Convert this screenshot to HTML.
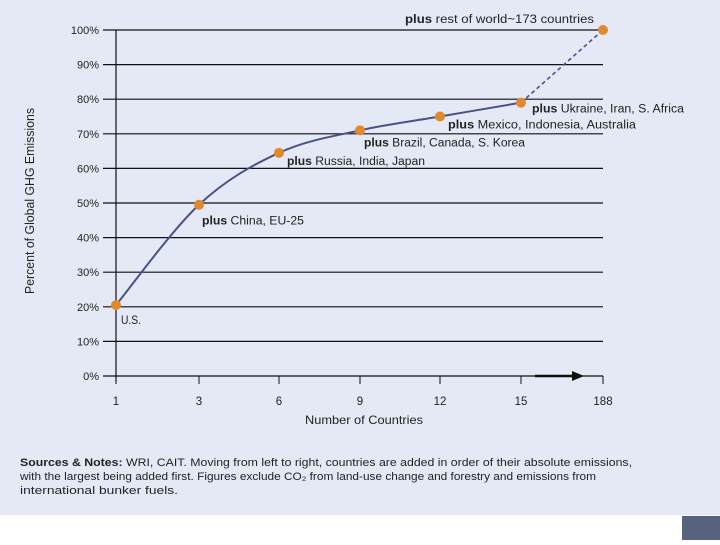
<!DOCTYPE html>
<html><head><meta charset="utf-8"><style>
body{margin:0;width:720px;height:540px;overflow:hidden;background:#fff;font-family:"Liberation Sans",sans-serif}
</style></head><body>
<svg width="720" height="540" xmlns="http://www.w3.org/2000/svg">
<rect x="0" y="0" width="720" height="515" fill="#e4e9f5"/>
<rect x="682" y="516" width="38" height="24" fill="#56627e"/>
<g id="grid"></g>
<g id="axes"></g>
<g id="marks"></g>
<text transform="translate(34,201) rotate(-90)" text-anchor="middle" font-size="12.5" fill="#222" textLength="186" lengthAdjust="spacingAndGlyphs">Percent of Global GHG Emissions</text>
<text x="364" y="424" text-anchor="middle" font-size="12" fill="#222" textLength="118" lengthAdjust="spacingAndGlyphs">Number of Countries</text>
<g font-size="11" fill="#222">
<text x="20" y="466" textLength="612" lengthAdjust="spacingAndGlyphs"><tspan font-weight="bold">Sources &amp; Notes:</tspan> WRI, CAIT. Moving from left to right, countries are added in order of their absolute emissions,</text>
<text x="20" y="480" textLength="576" lengthAdjust="spacingAndGlyphs">with the largest being added first. Figures exclude CO₂ from land-use change and forestry and emissions from</text>
<text x="20" y="494" textLength="158" lengthAdjust="spacingAndGlyphs">international bunker fuels.</text>
</g>
</svg>
<script>
const categories=["1","3","6","9","12","15","188"];
const values=[20.5,49.5,64.5,71,75,79,100];
const yTicks=[0,10,20,30,40,50,60,70,80,90,100];
const labels=["U.S.","China, EU-25","Russia, India, Japan","Brazil, Canada, S. Korea","Mexico, Indonesia, Australia","Ukraine, Iran, S. Africa","rest of world~173 countries"];
const NS="http://www.w3.org/2000/svg";
const yTop=30,yBot=376;
const xPos=[116,199,279,360,440,521,603];
const xs=i=>xPos[i];
const ys=v=>yBot-(v/100)*(yBot-yTop);
function el(t,a,p){const e=document.createElementNS(NS,t);for(const k in a)e.setAttribute(k,a[k]);p.appendChild(e);return e;}
const grid=document.getElementById('grid'),axes=document.getElementById('axes'),marks=document.getElementById('marks');
yTicks.forEach(t=>{
 const g=el('line',{x1:103,x2:603,y1:ys(t),y2:ys(t),stroke:'#111','stroke-width':1.2},grid);
 
 
 const tx=el('text',{x:99,y:ys(t)+4,'text-anchor':'end','font-size':11,fill:'#222'},axes);
 tx.textContent=t+'%';
 
 
});
el('line',{x1:116,x2:116,y1:yTop,y2:yBot+6,stroke:'#111','stroke-width':1.2},axes);
categories.forEach((c,i)=>{
 el('line',{x1:xs(i),x2:xs(i),y1:yBot,y2:yBot+8,stroke:'#111','stroke-width':1},axes);
 const t=el('text',{x:xs(i),y:yBot+29,'text-anchor':'middle','font-size':11.5,fill:'#222'},axes);
 t.textContent=c;
 
 
});
el('line',{x1:535,x2:576,y1:yBot,y2:yBot,stroke:'#111','stroke-width':2.5},axes);
el('polygon',{points:`572,${yBot-5} 584,${yBot} 572,${yBot+5}`,fill:'#111'},axes);
const P=values.map((v,i)=>[xs(i),ys(v)]);
let d=`M${P[0][0]},${P[0][1]}`;
for(let i=0;i<5;i++){const p0=P[Math.max(0,i-1)],p1=P[i],p2=P[i+1],p3=P[Math.min(5,i+2)];
 d+=` C${p1[0]+(p2[0]-p0[0])/6},${p1[1]+(p2[1]-p0[1])/6} ${p2[0]-(p3[0]-p1[0])/6},${p2[1]-(p3[1]-p1[1])/6} ${p2[0]},${p2[1]}`;}
const line=el('path',{d,fill:'none',stroke:'#4a5089','stroke-width':2},marks);


const dl=el('line',{x1:P[5][0],y1:P[5][1],x2:P[6][0],y2:P[6][1],stroke:'#4a5089','stroke-width':1.6,'stroke-dasharray':'4,3'},marks);


const off=[[5,19],[3,20],[8,12],[4,16],[8,12],[11,10],[-198,-7]];
const widths=[20,102,138,161,188,152,189];
P.forEach((p,i)=>{
 const c=el('circle',{cx:p[0],cy:p[1],r:5,fill:'#e08a2c'},marks);
 
 
 const t=el('text',{x:p[0]+off[i][0],y:p[1]+off[i][1],'font-size':11.5,fill:'#222',textLength:widths[i],lengthAdjust:'spacingAndGlyphs'},marks);
 
 
 if(i>0){const b=el('tspan',{'font-weight':'bold'},t);b.textContent='plus ';}
 const s=el('tspan',{},t);s.textContent=labels[i];
});
</script>
</body></html>
